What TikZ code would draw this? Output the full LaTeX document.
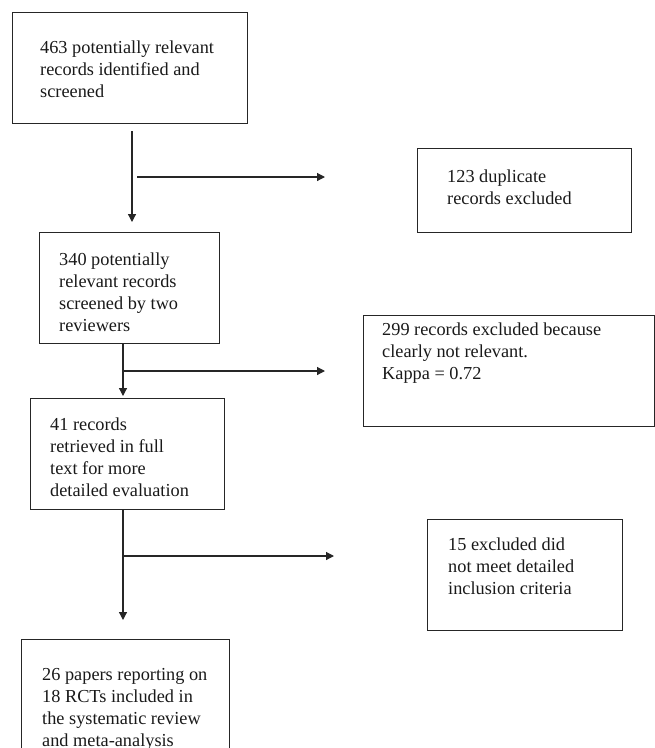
\documentclass[tikz,border=0pt]{standalone}
\usepackage{fontspec}
\setmainfont{Liberation Serif}
\usetikzlibrary{arrows.meta}
\begin{document}
\begin{tikzpicture}[x=1pt,y=-1pt,
  box/.style={draw=black!85, line width=1.2pt, anchor=north west, inner sep=0pt},
  txt/.style={anchor=north west, inner sep=0pt, align=left, font=\fontsize{18.3}{22}\selectfont, text=black!90},
  arr/.style={draw=black!85, line width=1.2pt, -{Triangle[length=8pt,width=8pt]}}]
\useasboundingbox (0,0) rectangle (655,748);
\clip (0,0) rectangle (655,748);
% boxes
\node[box, minimum width=235pt, minimum height=111pt] (b1) at (12,12) {};
\node[box, minimum width=214pt, minimum height=84pt] (b2) at (417,148) {};
\node[box, minimum width=180pt, minimum height=111pt] (b3) at (39,232) {};
\node[box, minimum width=291pt, minimum height=111pt] (b5) at (363,315) {};
\node[box, minimum width=194pt, minimum height=111pt] (b4) at (30,398) {};
\node[box, minimum width=195pt, minimum height=111pt] (b6) at (427,519) {};
\node[box, minimum width=208pt, minimum height=130pt] (b7) at (21,639) {};
% texts
\node[txt] (t1) at (40,37.6) {\strut 463 potentially relevant\\records identified and\\screened};
\node[txt] (t2) at (447,166.6) {\strut 123 duplicate\\records excluded};
\node[txt] (t3) at (59,249.6) {\strut 340 potentially\\relevant records\\screened by two\\reviewers};
\node[txt] (t5) at (382,319.6) {\strut 299 records excluded because\\clearly not relevant.\\Kappa = 0.72};
\node[txt] (t4) at (50,414.6) {\strut 41 records\\retrieved in full\\text for more\\detailed evaluation};
\node[txt] (t6) at (448,534.6) {\strut 15 excluded did\\not meet detailed\\inclusion criteria};
\node[txt] (t7) at (42,664.6) {\strut 26 papers reporting on\\18 RCTs included in\\the systematic review\\and meta-analysis};
% connector coordinates
\coordinate (v1) at (132,0);
\coordinate (v2) at (123,0);
\coordinate (j1) at (137,177);
\coordinate (e1) at (325,177);
\coordinate (j2) at (123,371);
\coordinate (e2) at (325,371);
\coordinate (j3) at (123,556);
\coordinate (e3) at (334,556);
% connectors
\draw[arr, shorten <=7pt, shorten >=10pt] (b1.south -| v1) -- (b3.north -| v1);
\draw[arr] (j1) -- (e1);
\draw[arr, shorten >=2pt] (b3.south -| v2) -- (b4.north -| v2);
\draw[arr] (j2) -- (e2);
\draw[arr, shorten >=19pt] (b4.south -| v2) -- (b7.north -| v2);
\draw[arr] (j3) -- (e3);
\end{tikzpicture}
\end{document}
